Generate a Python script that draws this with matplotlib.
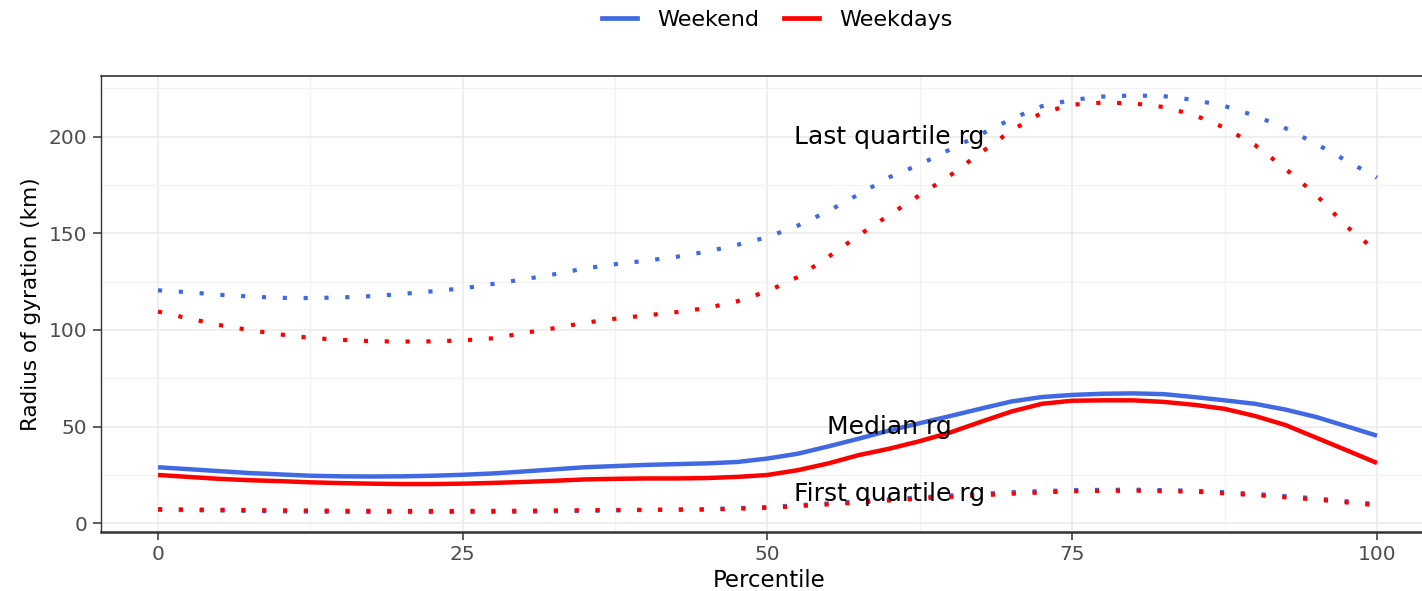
import matplotlib
matplotlib.use("Agg")
import matplotlib.pyplot as plt
from matplotlib.lines import Line2D
from matplotlib.ticker import MultipleLocator

plt.rcParams["font.family"] = ["DejaVu Sans"]

# Percentile grid for the smoothed curves
pct = [0, 2.5, 5, 7.5, 10, 12.5, 15, 17.5, 20, 22.5, 25, 27.5, 30, 32.5, 35,
       37.5, 40, 42.5, 45, 47.5, 50, 52.5, 55, 57.5, 60, 62.5, 65, 67.5, 70,
       72.5, 75, 77.5, 80, 82.5, 85, 87.5, 90, 92.5, 95, 97.5, 100]

# Last-quartile radius of gyration (km)
weekend_q3 = [120.5, 119.5, 118.2, 117.3, 116.6, 116.5, 116.8, 117.5, 118.6, 120.0,
              121.5, 123.8, 126.2, 128.8, 131.8, 134.0, 135.8, 137.8, 140.5, 144.0,
              148.0, 154.0, 161.5, 170.2, 179.0, 185.6, 193.4, 201.2, 209.1, 215.7,
              219.0, 220.7, 221.3, 220.9, 219.0, 215.8, 210.8, 204.3, 196.3, 187.5,
              178.8]
weekdays_q3 = [109.5, 106.0, 102.6, 99.9, 97.7, 95.9, 94.9, 94.2, 94.0, 94.1,
               94.6, 95.7, 98.4, 100.9, 103.7, 105.8, 107.5, 109.2, 111.3, 114.8,
               120.0, 127.4, 137.8, 149.0, 159.5, 169.8, 180.0, 191.7, 203.1, 212.3,
               216.5, 217.6, 217.2, 215.3, 211.2, 204.6, 195.6, 183.3, 169.9, 153.6,
               140.5]

# Median radius of gyration (km)
weekend_med = [29.0, 28.0, 27.0, 26.0, 25.3, 24.6, 24.3, 24.2, 24.3, 24.6,
               25.1, 25.8, 26.8, 27.9, 29.0, 29.6, 30.2, 30.6, 31.0, 31.7,
               33.5, 36.0, 39.8, 43.8, 48.0, 51.8, 55.5, 59.3, 63.0, 65.3,
               66.4, 67.0, 67.2, 66.8, 65.3, 63.6, 61.8, 58.8, 55.0, 50.2,
               45.3]
weekdays_med = [25.0, 24.0, 23.0, 22.3, 21.8, 21.2, 20.8, 20.5, 20.3, 20.3,
                20.5, 20.9, 21.4, 22.0, 22.7, 23.0, 23.2, 23.2, 23.4, 24.0,
                25.0, 27.5, 31.0, 35.3, 38.6, 42.5, 47.0, 52.5, 57.8, 61.8,
                63.4, 63.6, 63.6, 62.8, 61.3, 59.2, 55.5, 50.8, 44.3, 37.8,
                31.2]

# First-quartile radius of gyration (km)
pct_q1 = [0, 5, 10, 15, 20, 25, 30, 35, 40, 45, 50, 55, 60, 65, 70, 75, 80,
          85, 90, 95, 100]
weekend_q1 = [7.0, 6.6, 6.2, 5.9, 5.8, 5.8, 6.0, 6.4, 6.9, 7.3, 8.4, 10.3, 12.4,
              14.4, 16.1, 17.2, 17.4, 16.9, 15.2, 12.9, 9.9]
weekdays_q1 = [7.3, 7.0, 6.7, 6.5, 6.4, 6.4, 6.5, 6.8, 7.0, 7.1, 8.0, 9.8, 11.8,
               13.7, 15.3, 16.6, 16.9, 16.4, 14.6, 12.3, 9.3]

groups = ["Weekend", "Weekdays"]
colors = {"Weekend": "#4169E1", "Weekdays": "#FF0000"}

labels = ["Last quartile rg", "Median rg", "First quartile rg"]
label_x = [60, 60, 60]
label_y = [200, 50, 15]

W, H = 1422, 591
fig = plt.figure(figsize=(W / 100, H / 100), dpi=100)

x_lo, x_hi = -4.7, 105.0
px_per_unit = 12.19
left_px, top_px, bottom_px = 100.7, 75.7, 532.3
ax = fig.add_axes([left_px / W, 1 - bottom_px / H,
                   (x_hi - x_lo) * px_per_unit / W, (bottom_px - top_px) / H])
ax.set_xlim(x_lo, x_hi)
ax.set_ylim(-4.65, 231.5)

# grid
ax.xaxis.set_major_locator(MultipleLocator(25))
ax.xaxis.set_minor_locator(MultipleLocator(12.5))
ax.yaxis.set_major_locator(MultipleLocator(50))
ax.yaxis.set_minor_locator(MultipleLocator(25))
ax.grid(which="major", color="#EBEBEB", lw=1.1)
ax.grid(which="minor", color="#F2F2F2", lw=0.9)
ax.set_axisbelow(True)
ax.tick_params(which="minor", length=0)
ax.tick_params(which="major", length=5.5, width=1.1, color="#333333",
               labelsize=14.5, labelcolor="#4D4D4D", pad=4)

for s in ax.spines.values():
    s.set_color("#333333")
    s.set_linewidth(1.2)
ax.spines["bottom"].set_linewidth(1.8)
ax.spines["left"].set_linewidth(1.0)

dotted = (0, (1.0, 4.0))
series = {
    "Weekend": (weekend_q3, weekend_med, weekend_q1),
    "Weekdays": (weekdays_q3, weekdays_med, weekdays_q1),
}
for g in groups:
    q3, med, q1 = series[g]
    c = colors[g]
    ax.plot(pct, q3, color=c, lw=3.0, linestyle=dotted, dash_capstyle="butt")
    ax.plot(pct, med, color=c, lw=3.2, solid_capstyle="butt")
    ax.plot(pct_q1, q1, color=c, lw=3.0, linestyle=dotted, dash_capstyle="butt")

for t, lx, ly in zip(labels, label_x, label_y):
    ax.text(lx, ly, t, ha="center", va="center", fontsize=18, color="black")

ax.set_xlabel("Percentile", fontsize=16.5, color="black", labelpad=3)
ax.set_ylabel("Radius of gyration (km)", fontsize=15.5, color="black", labelpad=6)

handles = [Line2D([], [], color=colors[g], lw=3.4) for g in groups]
fig.legend(handles, groups, loc="center", bbox_to_anchor=(777 / W, 1 - 20 / H),
           ncol=2, frameon=False, fontsize=16, handlelength=1.6,
           handletextpad=0.9, columnspacing=1.1)

fig.savefig("out.png", dpi=100)
